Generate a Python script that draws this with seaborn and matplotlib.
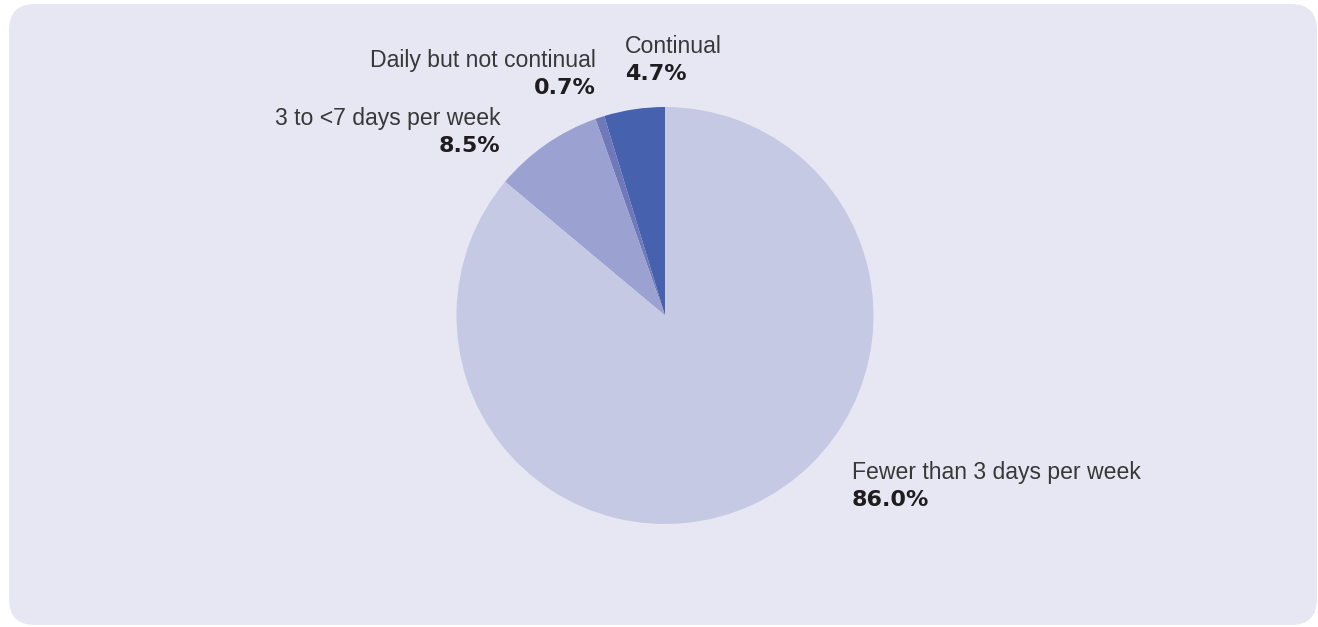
import matplotlib
matplotlib.use("Agg")
import matplotlib.pyplot as plt
from matplotlib.patches import FancyBboxPatch
import seaborn as sns

# Share of time by frequency category
categories = ["Continual", "Daily but not continual", "3 to <7 days per week", "Fewer than 3 days per week"]
shares = [4.7, 0.7, 8.5, 86.0]
slice_colors = ["#4662ae", "#6f78b8", "#9ba1d0", "#c6c9e4"]

sns.set_theme(style="white")
plt.rcParams["font.family"] = ["Liberation Sans", "DejaVu Sans"]

W, H, DPI = 1318, 627, 100
fig = plt.figure(figsize=(W / DPI, H / DPI), dpi=DPI)
fig.patch.set_facecolor("white")

# Rounded lavender panel behind the chart (display pixel coordinates)
panel = FancyBboxPatch((9 + 26, 2 + 26), 1308 - 52, 621 - 52,
                       boxstyle="round,pad=26", transform=None,
                       facecolor="#e7e7f3", edgecolor="none", zorder=-5)
fig.patches.append(panel)

# Pie axes: centre (665, 315.5) px, radius 208.5 px
cx, cy, r = 665, 315.5, 208.5
ax = fig.add_axes([(cx - r) / W, (H - cy - r) / H, 2 * r / W, 2 * r / H])
ax.set_facecolor("none")
ax.set_zorder(2)
# slices run anticlockwise from 12 o'clock
ax.pie(shares, colors=slice_colors, startangle=90, counterclock=True,
       radius=1.0, wedgeprops=dict(linewidth=0))
ax.set_xlim(-1, 1)
ax.set_ylim(-1, 1)
ax.set_aspect("equal")
ax.axis("off")

# Label anchors in pixels: (x, baseline of the name line, alignment)
label_pos = [(625, 53, "left"), (596, 67, "right"), (500, 125, "right"), (852, 479, "left")]
for name, val, (lx, ly, ha) in zip(categories, shares, label_pos):
    fig.text(lx / W, 1 - ly / H, name, ha=ha, va="baseline",
             fontsize=16.6, color="#383838")
    fig.text(lx / W, 1 - (ly + 26.5) / H, f"{val:.1f}%", ha=ha, va="baseline",
             fontsize=16, fontweight="bold", color="#1e1c1e",
             family=["DejaVu Sans"])

fig.savefig("out.png", dpi=DPI)
